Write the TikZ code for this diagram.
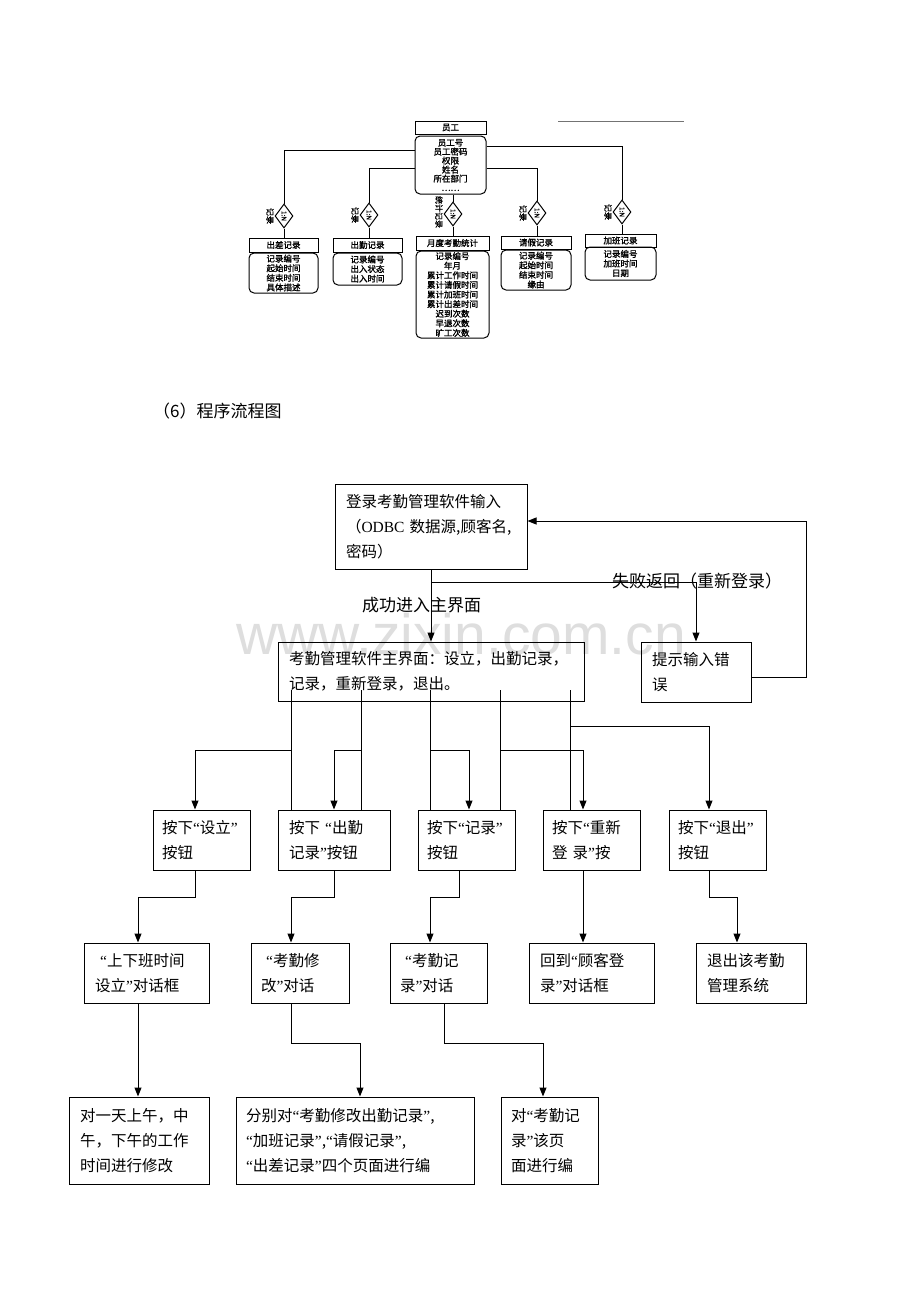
\documentclass[tikz,border=0pt]{standalone}
\usepackage{fontspec}
\setmainfont{Liberation Serif}
\newfontfamily\cjk{Noto Sans CJK SC}
\newfontfamily\cjkb[FakeBold=1.5]{Noto Sans CJK SC}
\newfontfamily\wmfont{Liberation Sans}
\usetikzlibrary{arrows.meta,shapes.geometric,calc}
\newcommand\qo{{\rmfamily “}}
\newcommand\qc{{\rmfamily ”}}
\begin{document}
\begin{tikzpicture}[x=1pt,y=-1pt,
  fbox/.style={draw,line width=1pt,inner sep=0pt,align=left,font=\cjk\fontsize{15.5}{25}\selectfont},
  arr/.style={line width=1pt,-{Triangle[length=9pt,width=7pt]}},
  ln/.style={line width=1pt},
  lbl/.style={anchor=west,inner sep=0pt,font=\cjk\fontsize{17}{17}\selectfont},
  ehead/.style={draw,line width=1pt,inner sep=0pt,font=\cjkb\fontsize{8.5}{9}\selectfont},
  ebody/.style={draw,line width=1pt,rounded corners=5pt,inner sep=0pt,align=center,font=\cjkb\fontsize{8.5}{9.6}\selectfont},
  dia/.style={draw,diamond,line width=1pt,inner sep=0pt,minimum width=18pt,minimum height=24pt},
  dtext/.style={rotate=-90,inner sep=0pt,font=\cjkb\fontsize{6.5}{6.5}\selectfont},
  eline/.style={line width=1pt},
]
\fill[white] (0,0) rectangle (920,1302);
\useasboundingbox (0,0) rectangle (920,1302);

% watermark
\node[text=black!13,font=\wmfont\fontsize{57}{57}\selectfont,inner sep=0pt] (wmark) at (461,634) {www.zixin.com.cn};

% ================= ER diagram =================
\draw[black!55,line width=0.8pt] (558,121) -- (684,121);
\node[ehead,minimum width=71pt,minimum height=13pt] (emph) at (450.5,127.5) {员工};
\node[ebody,minimum width=71pt,minimum height=58pt,font=\cjkb\fontsize{8.5}{9}\selectfont] (emp) at (450.5,165) {员工号\\员工密码\\权限\\姓名\\所在部门\\……};

\node[ehead,minimum width=69pt,minimum height=14pt] (h1) at (283.5,245) {出差记录};
\node[ebody,minimum width=69pt,minimum height=40pt] (e1b) at (283.5,273) {记录编号\\起始时间\\结束时间\\具体描述};
\node[ehead,minimum width=69pt,minimum height=14pt] (h2) at (367.5,245) {出勤记录};
\node[ebody,minimum width=69pt,minimum height=32pt] (e2b) at (367.5,269) {记录编号\\出入状态\\出入时间};
\node[ehead,minimum width=73pt,minimum height=14pt] (h3) at (452.5,243) {月度考勤统计};
\node[ebody,minimum width=73pt,minimum height=87pt] (e3b) at (452.5,294.5) {记录编号\\年月\\累计工作时间\\累计请假时间\\累计加班时间\\累计出差时间\\迟到次数\\早退次数\\旷工次数};
\node[ehead,minimum width=70pt,minimum height=13pt] (h4) at (536,242.5) {请假记录};
\node[ebody,minimum width=70pt,minimum height=40pt] (e4b) at (536,270) {记录编号\\起始时间\\结束时间\\缘由};
\node[ehead,minimum width=71pt,minimum height=13pt] (h5) at (620.5,240.5) {加班记录};
\node[ebody,minimum width=71pt,minimum height=33pt] (e5b) at (620.5,263.5) {记录编号\\加班时间\\日期};

\node[dia] (d1) at (284,216) {};
\node[dia] (d2) at (369,215) {};
\node[dia] (d3) at (453,214) {};
\node[dia] (d4) at (537,213) {};
\node[dia] (d5) at (622,212) {};
\foreach \d in {d1,d2,d3,d4,d5} {\node[dtext] at (\d) {1:N};}
\node[dtext,font=\cjkb\fontsize{8}{8}\selectfont] (l1) at (270,216) {记录};
\node[dtext,font=\cjkb\fontsize{8}{8}\selectfont] (l2) at (355,215) {记录};
\node[dtext,font=\cjkb\fontsize{8}{8}\selectfont] (l3) at (439,212) {统计记录};
\node[dtext,font=\cjkb\fontsize{8}{8}\selectfont] (l4) at (523,213) {记录};
\node[dtext,font=\cjkb\fontsize{8}{8}\selectfont] (l5) at (608,212) {记录};

\coordinate (ya1) at (0,150);
\coordinate (ya2) at (0,168);
\coordinate (ya3) at (0,146);
\draw[eline] (emp.west |- ya1) -| (d1.north);
\draw[eline] (emp.west |- ya2) -| (d2.north);
\draw[eline] (emp.south -| d3) -- (d3.north);
\draw[eline] (emp.east |- ya2) -| (d4.north);
\draw[eline] (emp.east |- ya3) -| (d5.north);
\draw[eline] (d1.south) -- (d1.south |- h1.north);
\draw[eline] (d2.south) -- (d2.south |- h2.north);
\draw[eline] (d3.south) -- (d3.south |- h3.north);
\draw[eline] (d4.south) -- (d4.south |- h4.north);
\draw[eline] (d5.south) -- (d5.south |- h5.north);

% ================= heading =================
\node[anchor=west,inner sep=0pt,font=\cjk\fontsize{17}{17}\selectfont] (head) at (153,411) {（6）程序流程图};

% ================= flowchart =================
\node[fbox,minimum width=192pt,minimum height=85pt,text width=170pt] (login) at (431,526.5)
  {登录考勤管理软件输入\\（{\rmfamily ODBC} 数据源,顾客名,\\密码）};
\node[fbox,minimum width=306pt,minimum height=59pt,text width=284pt] (main) at (431,671.5)
  {考勤管理软件主界面：设立，出勤记录，\\记录，重新登录，退出。};
\node[fbox,minimum width=110pt,minimum height=60pt,text width=88pt] (tip) at (696,672)
  {提示输入错\\误};

\node[fbox,minimum width=97pt,minimum height=60pt,text width=79pt] (b1) at (201.5,840) {按下\qo 设立\qc\\按钮};
\node[fbox,minimum width=112pt,minimum height=60pt,text width=90pt] (b2) at (334,840) {按下 \qo 出勤\\记录\qc 按钮};
\node[fbox,minimum width=97pt,minimum height=60pt,text width=79pt] (b3) at (466.5,840) {按下\qo 记录\qc\\按钮};
\node[fbox,minimum width=97pt,minimum height=60pt,text width=79pt] (b4) at (591.5,840) {按下\qo 重新\\登 录\qc 按};
\node[fbox,minimum width=97pt,minimum height=60pt,text width=79pt] (b5) at (717.5,840) {按下\qo 退出\qc\\按钮};

\node[fbox,minimum width=125pt,minimum height=60pt,text width=103pt] (c1) at (146.5,973) {\ \qo 上下班时间\\设立\qc 对话框};
\node[fbox,minimum width=98pt,minimum height=60pt,text width=78pt] (c2) at (300,973) {\ \qo 考勤修\\改\qc 对话};
\node[fbox,minimum width=97pt,minimum height=60pt,text width=77pt] (c3) at (438.5,973) {\ \qo 考勤记\\录\qc 对话};
\node[fbox,minimum width=125pt,minimum height=60pt,text width=103pt] (c4) at (591.5,973) {回到\qo 顾客登\\录\qc 对话框};
\node[fbox,minimum width=110pt,minimum height=60pt,text width=88pt] (c5) at (751,973) {退出该考勤\\管理系统};

\node[fbox,minimum width=140pt,minimum height=87pt,text width=118pt] (f1) at (139,1140.5) {对一天上午，中\\午，下午的工作\\时间进行修改};
\node[fbox,minimum width=238pt,minimum height=87pt,text width=218pt] (f2) at (355,1140.5) {分别对\qo 考勤修改出勤记录\qc,\\\qo 加班记录\qc,\qo 请假记录\qc,\\\qo 出差记录\qc 四个页面进行编};
\node[fbox,minimum width=97pt,minimum height=87pt,text width=77pt] (f3) at (549.5,1140.5) {对\qo 考勤记\\录\qc 该页\\面进行编};

% labels
\node[lbl] (ok) at (362,605) {成功进入主界面};
\node[lbl] (fail) at (612,581) {失败返回（重新登录）};

% helper coordinates
\coordinate (yfail) at (0,582);
\coordinate (yret1) at (0,677);
\coordinate (yret2) at (0,521);
\coordinate (xret) at (806,0);
\coordinate (ya) at (0,750);
\coordinate (yb) at (0,726);
\coordinate (yc) at (0,897);
\coordinate (yd) at (0,1043);
\coordinate (ym) at (0,690);
\foreach \n/\x in {m1/291,m2/361,m3/430,m4/500,m5/570,
  k195/195,k334/334,k469/469,k583/583,k709/709,
  k138/138,k291/291,k459/459,k430/430,k737/737,
  k444/444,k360/360,k543/543} {\coordinate (\n) at (\x,0);}

% login -> main, fail branch, return
\draw[arr] (login.south) -- (main.north);
\draw[arr] (login.south |- yfail) -| (tip.north);
\draw[arr] (tip.east |- yret1) -- (xret |- yret1) -- (xret |- yret2) -- (login.east |- yret2);

% main -> buttons
\draw[ln] (m1 |- ym) -- (m1 |- b2.north);
\draw[arr] (m1 |- ya) -| (b1.north -| k195);
\draw[ln] (m2 |- ym) -- (m2 |- b2.north);
\draw[arr] (m2 |- ya) -| (b2.north -| k334);
\draw[ln] (m3 |- ym) -- (m3 |- b3.north);
\draw[arr] (m3 |- ya) -| (b3.north -| k469);
\draw[ln] (m4 |- ym) -- (m4 |- b3.north);
\draw[arr] (m4 |- ya) -| (b4.north -| k583);
\draw[ln] (m5 |- ym) -- (m5 |- b4.north);
\draw[arr] (m5 |- yb) -| (b5.north -| k709);

% buttons -> dialogs
\draw[arr] (b1.south -| k195) -- (k195 |- yc) -| (c1.north -| k138);
\draw[arr] (b2.south -| k334) -- (k334 |- yc) -| (c2.north -| k291);
\draw[arr] (b3.south -| k459) -- (k459 |- yc) -| (c3.north -| k430);
\draw[arr] (b4.south -| k583) -- (c4.north -| k583);
\draw[arr] (b5.south -| k709) -- (k709 |- yc) -| (c5.north -| k737);

% dialogs -> actions
\draw[arr] (c1.south -| k138) -- (f1.north -| k138);
\draw[arr] (c2.south -| k291) -- (k291 |- yd) -| (f2.north -| k360);
\draw[arr] (c3.south -| k444) -- (k444 |- yd) -| (f3.north -| k543);
\end{tikzpicture}
\end{document}
